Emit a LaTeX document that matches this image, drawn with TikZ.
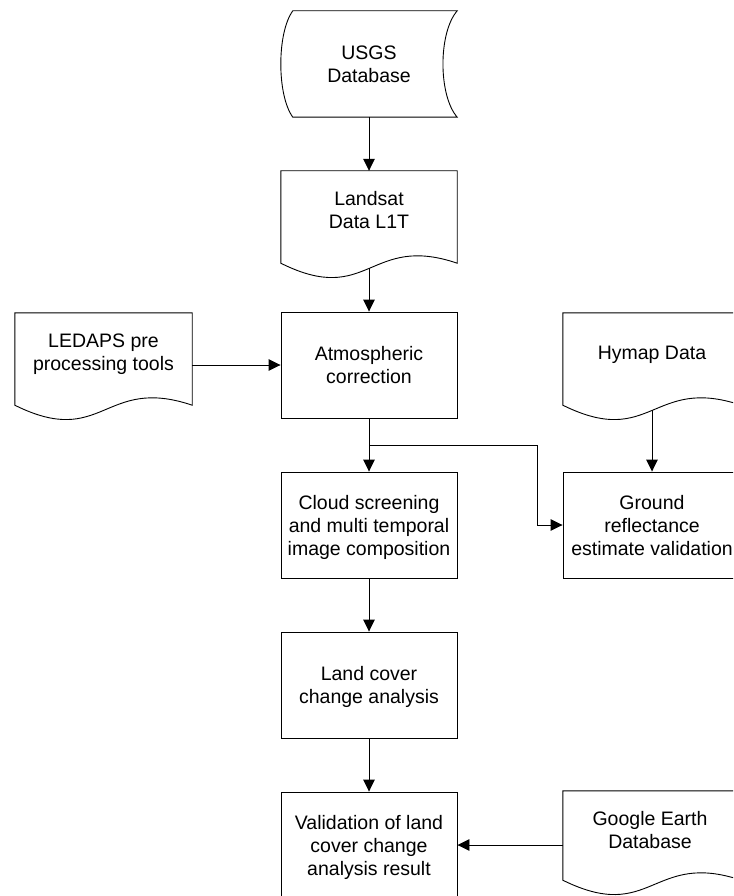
\documentclass[tikz,border=0pt]{standalone}
\usepackage{fontspec}
\setmainfont{Liberation Sans}
\usetikzlibrary{arrows.meta,calc}
\newcommand\fl{\rule{0pt}{14pt}}
\newcommand\sm[1]{\smash{#1}}
\newcommand\docshape[1]{%
  \draw[shapeline] (#1.south west) -- (#1.north west) -- (#1.north east) -- (#1.south east)
    .. controls ($(#1.south)+(0,-30)$) and ($(#1.south)+(0,44)$) .. (#1.south west) -- cycle;
  \coordinate (#1-w) at ($(#1.south)+(0,5.25)$);}
\begin{document}
\begin{tikzpicture}[x=1pt,y=-1pt,
  shapeline/.style={line width=0.9pt, black},
  txt/.style={font=\fontsize{19.5}{23}\selectfont, align=center, inner sep=0pt},
  procbox/.style={txt, draw, line width=0.9pt, minimum width=176pt, minimum height=106pt},
  docbox/.style={inner sep=0pt, minimum height=92pt},
  arr/.style={line width=0.9pt, -{Triangle[length=12pt,width=11.5pt]}}]
\useasboundingbox (0,0) rectangle (733,896);
\fill[white] (0,0) rectangle (733,896);
\clip (0,0) rectangle (733,896);

% USGS stored data
\node[txt, minimum width=176pt, minimum height=106pt] (usgs) at (369,64)
  {\fl\sm{USGS}\\\sm{Database}};
\draw[shapeline] ([xshift=12pt]usgs.north west) -- (usgs.north east)
  .. controls ([xshift=-19pt,yshift=-22pt]usgs.north east) and ([xshift=-19pt,yshift=22pt]usgs.south east) .. (usgs.south east)
  -- ([xshift=12pt]usgs.south west)
  .. controls ([xshift=-4pt,yshift=22pt]usgs.south west) and ([xshift=-4pt,yshift=-22pt]usgs.north west) .. cycle;

% documents
\node[docbox, minimum width=176pt] (landsat) at (369,217) {};
\docshape{landsat}
\node[txt] (landsat-t) at (369,210) {\fl\sm{Landsat}\\\sm{Data L1T}};

\node[docbox, minimum width=177pt] (ledaps) at (103.5,359) {};
\docshape{ledaps}
\node[txt] (ledaps-t) at (103.5,352) {\fl\sm{LEDAPS pre}\\\sm{processing tools}};

\node[docbox, minimum width=178pt] (hymap) at (652,359) {};
\docshape{hymap}
\node[txt] (hymap-t) at (652,352) {\fl\sm{Hymap Data}};

\node[docbox, minimum width=178pt, minimum height=89pt] (google) at (652,835.5) {};
\docshape{google}
\node[txt] (google-t) at (650,829.5) {\fl\sm{Google Earth}\\\sm{Database}};

% process boxes
\node[procbox] (atmos) at (369,365) {\fl\sm{Atmospheric}\\\sm{correction}};
\node[procbox] (cloud) at (369,525) {\fl\sm{Cloud screening}\\\sm{and multi temporal}\\\sm{image composition}};
\node[procbox, minimum width=178pt] (ground) at (652,525) {\fl\sm{Ground}\\\sm{reflectance}\\\sm{estimate validation}};
\node[procbox] (land) at (369,685) {\fl\sm{Land cover}\\\sm{change analysis}};
\node[procbox] (valid) at (369,845) {\fl\sm{Validation of land}\\\sm{cover change}\\\sm{analysis result}};

% connectors
\draw[arr] (usgs.south) -- (landsat.north);
\draw[arr] (landsat-w) -- (atmos.north);
\draw[arr] (atmos.west -| ledaps.east) -- (atmos.west);
\draw[arr] (atmos.south) -- (cloud.north);
\coordinate (j) at ($(atmos.south)!0.5!(cloud.north)$);
\coordinate (bend) at (537,0);
\draw[arr] (j) -- (j -| bend) |- (ground.west);
\draw[arr] (hymap-w) -- (ground.north);
\draw[arr] (cloud.south) -- (land.north);
\draw[arr] (land.south) -- (valid.north);
\draw[arr] (valid.east -| google.west) -- (valid.east);
\end{tikzpicture}
\end{document}
